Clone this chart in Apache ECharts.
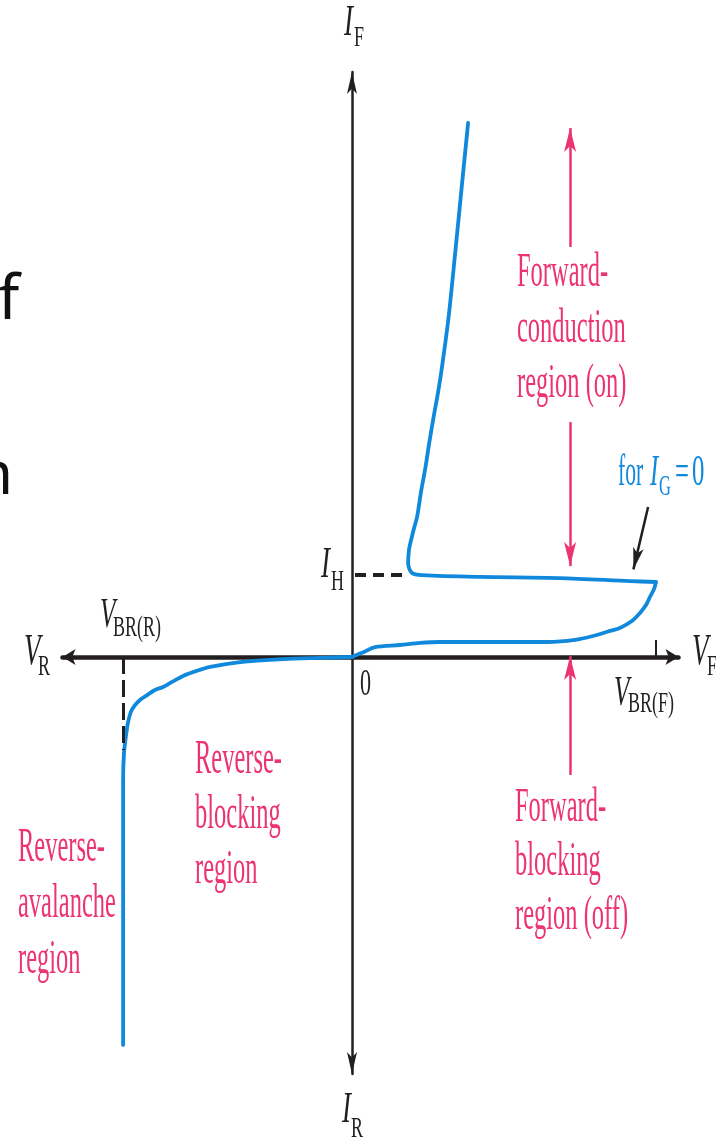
<!DOCTYPE html>
<html>
<head>
<meta charset="utf-8">
<script src="https://cdn.jsdelivr.net/npm/echarts@6/dist/echarts.min.js"></script>
<style>
  html, body { margin: 0; padding: 0; background: #ffffff; }
  #chart { width: 716px; height: 1140px; }
</style>
</head>
<body>
<div id="chart"></div>
<script>
// SCR (thyristor) I–V characteristic for gate current I_G = 0.
// Units are arbitrary: x = anode voltage (V_F positive, V_R negative),
// y = anode current (I_F positive, I_R negative).

// Reverse branch: avalanche at V_BR(R), then the small reverse-blocking leakage.
const reverseBranch = [
  [-7.63, -12.93], [-7.63, -8.10], [-7.63, -4.10], [-7.60, -3.20], [-7.53, -2.60],
  [-7.47, -2.20], [-7.37, -1.83], [-7.23, -1.60], [-7.03, -1.40], [-6.83, -1.27],
  [-6.57, -1.10], [-6.30, -1.00], [-6.00, -0.83], [-5.63, -0.63], [-5.20, -0.47],
  [-4.73, -0.33], [-3.73, -0.17], [-2.30, -0.07], [-1.07, -0.03], [0, 0]
];
// Forward-blocking branch up to the forward breakover voltage V_BR(F).
const forwardBlocking = [
  [0, 0], [0.40, 0.17], [0.77, 0.33], [1.60, 0.40], [2.27, 0.47], [2.93, 0.50],
  [4.93, 0.50], [6.53, 0.50], [7.43, 0.57], [8.03, 0.70], [8.60, 0.87],
  [8.93, 0.97], [9.33, 1.20], [9.60, 1.47], [9.80, 1.73], [9.93, 2.00],
  [10.07, 2.27], [10.13, 2.50]
];
// Snap-back along the holding current, then the forward-conduction branch.
const holdingAndConduction = [
  [10.13, 2.50], [9.27, 2.53], [6.93, 2.63], [4.27, 2.67], [2.37, 2.73], [2.00, 2.80],
  [1.87, 3.13], [1.90, 3.57], [1.97, 3.90], [2.07, 4.30], [2.17, 4.67],
  [2.30, 5.50], [2.45, 6.33], [2.58, 7.17], [2.72, 8.00], [2.87, 8.83],
  [3.00, 9.67], [3.22, 11.33], [3.45, 13.57], [3.67, 15.80], [3.87, 17.80]
];

// Reference levels
const V_BR_R = -7.62;
const V_BR_F = 10.13;
const I_H = 2.75;

// Region arrows (start, arrow end) and the pointer to the I_G = 0 curve
const regionArrows = [
  [[7.27, 13.67], [7.27, 17.63]],
  [[7.27, 7.83], [7.27, 3.03]],
  [[7.27, -3.93], [7.27, 0.03]]
];
const curvePointer = [[9.87, 5.00], [9.38, 2.92]];

// Dashed guides and the breakover tick
const holdingGuide = [[0.10, I_H], [1.73, I_H]];
const reverseGuide = [[V_BR_R, 0], [V_BR_R, -3.10]];
const breakoverTick = [[V_BR_F, 0], [V_BR_F, 0.57]];

const INK = '#231f20';
const PINK = '#ec3470';
const BLUE = '#1089dc';
const SERIF = '"Liberation Serif", "Times New Roman", serif';

// Text helper: x = left edge, base = alphabetic baseline (pixels)
function label(x, base, text, size, color, o) {
  o = o || {};
  const fam = o.family || SERIF;
  return {
    type: 'text',
    x: x,
    y: base - (o.mid != null ? o.mid : 0.3375) * size,
    scaleX: o.sx != null ? o.sx : 0.6,
    silent: true,
    z: 100,
    style: {
      text: text,
      fill: color,
      font: (o.italic ? 'italic ' : '') + size + 'px ' + fam,
      textAlign: 'left',
      textVerticalAlign: 'middle',
      align: 'left',
      verticalAlign: 'middle'
    }
  };
}

function pinkBlock(x, bases, lines) {
  return lines.map((t, i) => label(x, bases[i], t, 48, PINK, { sx: 0.51 }));
}

const texts = [].concat(
  // axis names
  label(344, 38, 'I', 45, INK, { italic: true }),
  label(354, 48, 'F', 30, INK),
  label(342, 1125, 'I', 45, INK, { italic: true }),
  label(351, 1139, 'R', 30, INK),
  label(24, 667, 'V', 45, INK, { italic: true }),
  label(38, 677, 'R', 30, INK),
  label(692, 667, 'V', 45, INK, { italic: true }),
  label(707, 677, 'F', 30, INK),
  // breakover voltages
  label(100, 630, 'V', 42, INK, { italic: true }),
  label(113, 638, 'BR(R)', 30, INK),
  label(614, 708, 'V', 42, INK, { italic: true }),
  label(628, 714, 'BR(F)', 30, INK),
  // origin and holding current
  label(360, 698, '0', 37, INK),
  label(321, 580, 'I', 45, INK, { italic: true }),
  label(331, 592, 'H', 30, INK),
  // gate condition
  label(618, 488, 'for', 45, BLUE, { sx: 0.48 }),
  label(650, 488, 'I', 45, BLUE, { italic: true, sx: 0.55 }),
  label(659, 497, 'G', 30, BLUE, { sx: 0.55 }),
  label(675, 488, '=', 45, BLUE, { sx: 0.55 }),
  label(692, 488, '0', 45, BLUE, { sx: 0.55 }),
  // region names
  pinkBlock(517, [290, 345.5, 401], ['Forward-', 'conduction', 'region (on)']),
  pinkBlock(515, [825, 879, 933], ['Forward-', 'blocking', 'region (off)']),
  pinkBlock(195, [777, 832, 887], ['Reverse-', 'blocking', 'region']),
  pinkBlock(18, [865, 921, 977], ['Reverse-', 'avalanche', 'region']),
  // slide text running in from the left edge
  label(-2, 320, 'f', 62, '#111111', { family: '"Noto Sans", sans-serif', sx: 1, mid: 0.3 }),
  label(-24, 495, 'n', 60, '#111111', { family: '"Noto Sans", sans-serif', sx: 1, mid: 0.3 })
);

function branchSeries(points) {
  return {
    type: 'line',
    data: points,
    symbol: 'none',
    showSymbol: false,
    silent: true,
    smooth: 0.3,
    z: 3,
    lineStyle: { color: BLUE, width: 3.8, join: 'round', cap: 'round' }
  };
}

function guideSeries(segments, color, width, dash, head) {
  return {
    type: 'line',
    data: [],
    silent: true,
    animation: false,
    markLine: {
      silent: true,
      animation: false,
      symbol: ['none', head ? 'arrow' : 'none'],
      symbolSize: [0, head || 0],
      label: { show: false },
      emphasis: { disabled: true },
      lineStyle: { color: color, width: width, type: dash || 'solid', opacity: 1 },
      data: segments.map(s => [
        { coord: s[0], symbol: 'none' },
        head ? { coord: s[1], symbol: 'arrow', symbolSize: head }
             : { coord: s[1], symbol: 'none' }
      ])
    }
  };
}

const chart = echarts.init(document.getElementById('chart'), null, { renderer: 'canvas' });

chart.setOption({
  backgroundColor: '#ffffff',
  animation: false,
  grid: { left: 62.5, right: 37.5, top: 72, bottom: 66, containLabel: false },
  xAxis: {
    type: 'value',
    min: -9.65,
    max: 10.8833,
    axisLine: {
      onZero: true,
      symbol: ['arrow', 'arrow'],
      symbolSize: [12, 13],
      lineStyle: { color: INK, width: 4.5 }
    },
    axisTick: { show: false },
    axisLabel: { show: false },
    splitLine: { show: false }
  },
  yAxis: {
    type: 'value',
    min: -13.9,
    max: 19.5,
    axisLine: {
      onZero: true,
      symbol: ['arrow', 'arrow'],
      symbolSize: [7.5, 22],
      lineStyle: { color: INK, width: 2.5 }
    },
    axisTick: { show: false },
    axisLabel: { show: false },
    splitLine: { show: false }
  },
  series: [
    branchSeries(reverseBranch),
    branchSeries(forwardBlocking),
    branchSeries(holdingAndConduction),
    guideSeries(regionArrows, PINK, 2.5, 'solid', [9, 24]),
    guideSeries([curvePointer], INK, 2.5, 'solid', [8, 22]),
    guideSeries([holdingGuide], INK, 4, [11, 7]),
    guideSeries([reverseGuide], INK, 3, [17, 6]),
    guideSeries([breakoverTick], INK, 2)
  ],
  graphic: { elements: texts }
});
</script>
</body>
</html>
